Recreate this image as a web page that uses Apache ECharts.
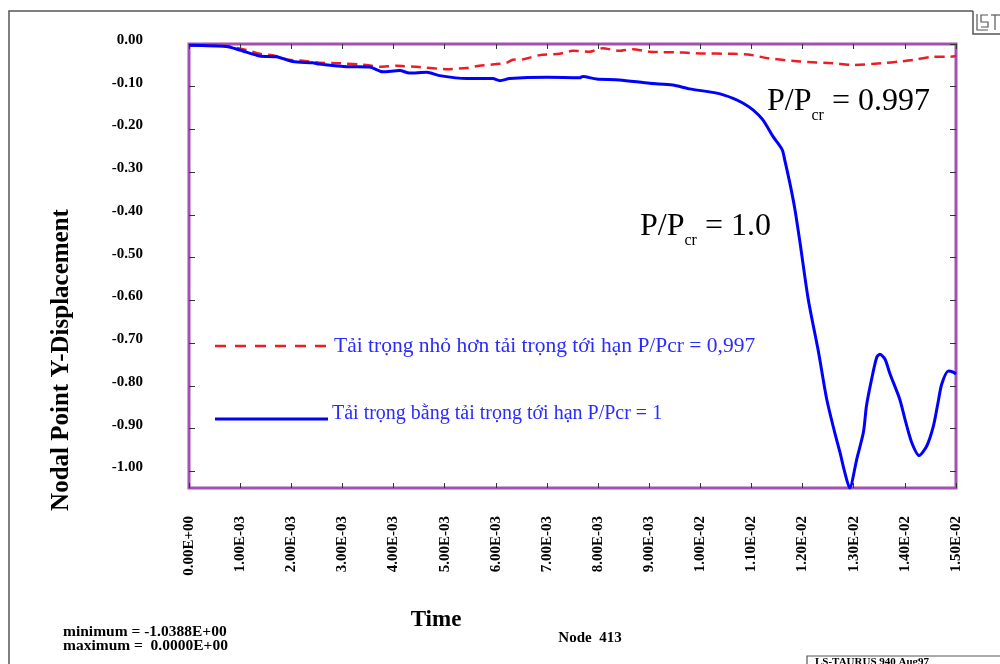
<!DOCTYPE html>
<html>
<head>
<meta charset="utf-8">
<script src="https://cdn.jsdelivr.net/npm/echarts@6/dist/echarts.min.js"></script>
<style>
  html, body { margin: 0; padding: 0; background: #fff; }
  #chart { width: 1000px; height: 664px; }
</style>
</head>
<body>
<div id="chart"></div>
<script>
// LS-TAURUS node 413, y-displacement vs time
const timeRed = [0, 0.00073, 0.00112, 0.00138, 0.00163, 0.00196, 0.00222, 0.00255, 0.00294, 0.00347,
  0.00373, 0.00406, 0.00451, 0.00504, 0.00543, 0.00568, 0.00601, 0.00621, 0.00633, 0.00653,
  0.00686, 0.00725, 0.00750, 0.00784, 0.00809, 0.00842, 0.00868, 0.00901, 0.00966, 0.00999,
  0.01064, 0.01097, 0.01130, 0.01195, 0.01260, 0.01298, 0.01357, 0.01390, 0.01423, 0.01455,
  0.01488, 0.01500];
const dispRed = [-0.003, -0.005, -0.014, -0.023, -0.026, -0.037, -0.039, -0.044, -0.045, -0.049,
  -0.053, -0.051, -0.054, -0.059, -0.056, -0.051, -0.047, -0.044, -0.037, -0.036,
  -0.026, -0.023, -0.016, -0.018, -0.010, -0.016, -0.012, -0.018, -0.020, -0.022,
  -0.023, -0.025, -0.033, -0.041, -0.045, -0.049, -0.045, -0.041, -0.036, -0.030,
  -0.030, -0.028];

const timeBlue = [0, 0.00073, 0.00099, 0.00138, 0.00171, 0.00203, 0.00242, 0.00255, 0.00308, 0.00353,
  0.00379, 0.00412, 0.00431, 0.00465, 0.00490, 0.00543, 0.00594, 0.00608, 0.00627, 0.00700,
  0.00764, 0.00770, 0.00797, 0.00842, 0.00901, 0.00946, 0.00979, 0.01032, 0.01064, 0.01083,
  0.01103, 0.01122, 0.01142, 0.01160, 0.01165, 0.01175, 0.01185, 0.01195, 0.01211, 0.01231,
  0.01247, 0.01263, 0.01273, 0.01282, 0.01292, 0.01306, 0.01319, 0.01325, 0.01335, 0.01345,
  0.01351, 0.01361, 0.01371, 0.01390, 0.01400, 0.01413, 0.01428, 0.01443, 0.01456, 0.01465,
  0.01472, 0.01485, 0.01495, 0.01500];
const dispBlue = [-0.003, -0.006, -0.014, -0.028, -0.030, -0.041, -0.044, -0.047, -0.053, -0.054,
  -0.065, -0.062, -0.068, -0.066, -0.074, -0.081, -0.081, -0.086, -0.081, -0.078,
  -0.079, -0.076, -0.082, -0.084, -0.092, -0.096, -0.105, -0.115, -0.127, -0.138,
  -0.154, -0.177, -0.216, -0.247, -0.271, -0.325, -0.387, -0.465, -0.597, -0.720,
  -0.830, -0.910, -0.955, -1.000, -1.0388, -0.971, -0.908, -0.846, -0.784, -0.733,
  -0.726, -0.737, -0.772, -0.831, -0.877, -0.931, -0.963, -0.940, -0.893, -0.838,
  -0.796, -0.765, -0.768, -0.772];

const yTicks = [0, -0.1, -0.2, -0.3, -0.4, -0.5, -0.6, -0.7, -0.8, -0.9, -1.0];
const legendNames = ['Tải trọng nhỏ hơn tải trọng tới hạn P/Pcr = 0,997',
  'Tải trọng bằng tải trọng tới hạn P/Pcr = 1'];

const serif = '"Liberation Serif", "DejaVu Serif", serif';

function sci(v) {
    const s = v.toExponential(2).split('e');
    const e = parseInt(s[1], 10);
    return s[0] + 'E' + (e < 0 ? '-' : '+') + String(Math.abs(e)).padStart(2, '0');
}

const chart = echarts.init(document.getElementById('chart'));

const tickStyle = { show: true, inside: true, length: 5, lineStyle: { color: '#333', width: 1 } };
const noLine = { show: false, onZero: false };

chart.setOption({
    animation: false,
    backgroundColor: '#fff',
    grid: {
        left: 189, top: 44, width: 767, height: 444,
        show: true, borderColor: '#a34fb3', borderWidth: 3, backgroundColor: 'transparent',
        containLabel: false, outerBoundsMode: 'none'
    },
    xAxis: [{
        type: 'value', position: 'bottom', min: 0, max: 0.015, interval: 0.001,
        axisLine: noLine, splitLine: { show: false },
        axisTick: tickStyle,
        axisLabel: {
            rotate: 90, margin: 28, formatter: sci,
            fontFamily: serif, fontWeight: 'bold', fontSize: 15, color: '#000'
        }
    }, {
        type: 'value', position: 'top', min: 0, max: 0.015, interval: 0.001,
        axisLine: noLine, splitLine: { show: false },
        axisTick: tickStyle, axisLabel: { show: false }
    }],
    yAxis: [{
        type: 'value', position: 'left', min: -1.0388, max: 0,
        axisLine: noLine, splitLine: { show: false },
        axisTick: Object.assign({ customValues: yTicks }, tickStyle, { length: 6 }),
        axisLabel: {
            customValues: yTicks, margin: 46, verticalAlign: 'bottom', lineHeight: 8,
            formatter: v => (Math.abs(v) < 1e-9 ? '0.00' : v.toFixed(2)),
            fontFamily: serif, fontWeight: 'bold', fontSize: 15, color: '#000'
        }
    }, {
        type: 'value', position: 'right', min: -1.0388, max: 0,
        axisLine: noLine, splitLine: { show: false },
        axisTick: Object.assign({ customValues: yTicks }, tickStyle, { length: 6 }),
        axisLabel: { show: false }
    }],
    series: [{
        name: legendNames[0], type: 'line', showSymbol: false, smooth: 0.2,
        data: timeRed.map((t, i) => [t, dispRed[i]]),
        lineStyle: { color: '#ee1c24', width: 2.5, type: [10, 6] }
    }, {
        name: legendNames[1], type: 'line', showSymbol: false, smooth: 0.25,
        data: timeBlue.map((t, i) => [t, dispBlue[i]]),
        lineStyle: { color: '#0000ff', width: 3 }
    }],
    graphic: [
        // outer frame
        { type: 'polyline', shape: { points: [[9, 664], [9, 11], [973, 11]] }, style: { stroke: '#555', lineWidth: 1.5, fill: null } },
        // logo box
        { type: 'polyline', shape: { points: [[973, 11], [973, 34], [1000, 34]] }, style: { stroke: '#555', lineWidth: 1.5, fill: null } },
        { type: 'polyline', shape: { points: [[977, 14], [977, 30], [988, 30]] }, style: { stroke: '#555', lineWidth: 1.2, fill: null } },
        { type: 'polyline', shape: { points: [[988, 15], [981, 15], [981, 22], [988, 22], [988, 27], [981, 27]] }, style: { stroke: '#555', lineWidth: 1.2, fill: null } },
        { type: 'polyline', shape: { points: [[991, 15], [1000, 15]] }, style: { stroke: '#555', lineWidth: 1.2, fill: null } },
        { type: 'polyline', shape: { points: [[995, 15], [995, 30]] }, style: { stroke: '#555', lineWidth: 1.2, fill: null } },
        // legend
        { type: 'line', shape: { x1: 215, y1: 346, x2: 328, y2: 346 }, style: { stroke: '#ee1c24', lineWidth: 2.5, lineDash: [11, 9] } },
        { type: 'text', style: { x: 334, y: 346, text: legendNames[0], fill: '#2b2bff', font: '21.5px ' + serif, verticalAlign: 'middle' } },
        { type: 'line', shape: { x1: 215, y1: 419, x2: 328, y2: 419 }, style: { stroke: '#0000ff', lineWidth: 3 } },
        { type: 'text', style: { x: 332, y: 414, text: legendNames[1], fill: '#2b2bff', font: '20px ' + serif, verticalAlign: 'middle' } },
        // annotations
        {
            type: 'text', x: 767, y: 80,
            style: {
                text: '{a|P/P}{s|cr}{a| = 0.997}', fill: '#000', verticalAlign: 'top',
                rich: {
                    a: { fontFamily: serif, fontSize: 32, lineHeight: 44, verticalAlign: 'middle' },
                    s: { fontFamily: serif, fontSize: 16, verticalAlign: 'bottom' }
                }
            }
        },
        {
            type: 'text', x: 640, y: 205,
            style: {
                text: '{a|P/P}{s|cr}{a| = 1.0}', fill: '#000', verticalAlign: 'top',
                rich: {
                    a: { fontFamily: serif, fontSize: 32, lineHeight: 44, verticalAlign: 'middle' },
                    s: { fontFamily: serif, fontSize: 16, verticalAlign: 'bottom' }
                }
            }
        },
        // axis names and footer
        { type: 'text', x: 62, y: 360, rotation: Math.PI / 2, style: { text: 'Nodal Point Y-Displacement', font: 'bold 25px ' + serif, fill: '#000', align: 'center', verticalAlign: 'middle' } },
        { type: 'text', style: { x: 436, y: 620, text: 'Time', font: 'bold 23px ' + serif, fill: '#000', align: 'center', verticalAlign: 'middle' } },
        { type: 'text', style: { x: 590, y: 638, text: 'Node  413', font: 'bold 15px ' + serif, fill: '#000', align: 'center', verticalAlign: 'middle' } },
        { type: 'text', style: { x: 63, y: 632, text: 'minimum = -1.0388E+00', font: 'bold 15.5px ' + serif, fill: '#000', verticalAlign: 'middle' } },
        { type: 'text', style: { x: 63, y: 646, text: 'maximum =  0.0000E+00', font: 'bold 15.5px ' + serif, fill: '#000', verticalAlign: 'middle' } },
        { type: 'polyline', shape: { points: [[807, 664], [807, 656], [1000, 656]] }, style: { stroke: '#555', lineWidth: 1.2, fill: null } },
        { type: 'text', style: { x: 815, y: 662, text: 'LS-TAURUS 940 Aug97', font: 'bold 11px ' + serif, fill: '#000', verticalAlign: 'middle' } }
    ]
});
</script>
</body>
</html>
